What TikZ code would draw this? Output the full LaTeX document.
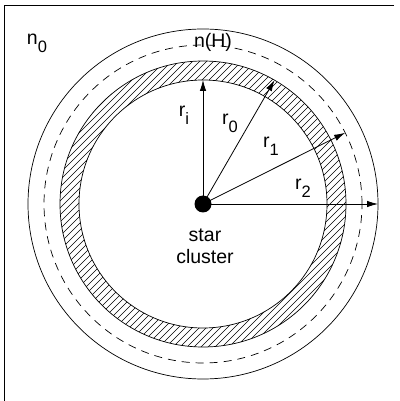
\documentclass[tikz,border=0pt]{standalone}
\usepackage{fontspec}
\setmainfont{Liberation Sans}
\usepackage{tikz}
\usetikzlibrary{arrows.meta,positioning,calc}
\newcommand{\lowsub}[1]{\raisebox{-0.42em}{\fontsize{16.5}{16.5}\selectfont #1}}

\begin{document}
\begin{tikzpicture}[
    x=1pt, y=1pt,
    ring/.style={draw, line width=0.7pt},
    arr/.style={-{Latex[length=11pt,width=6.5pt]}, line width=0.8pt},
    lbl/.style={font=\fontsize{19.5}{22}\selectfont, inner sep=0pt},
    every node/.style={font=\fontsize{19.5}{22}\selectfont}
  ]
    \useasboundingbox (-203,-197) rectangle (196,204);
    % frame (top and left)
    \draw[line width=0.9pt] (191,199) -- (-199,199) -- (-199,-197);

    % hatched shell
    \begin{scope}[even odd rule]
      \clip (0,0) circle (143) (0,0) circle (124);
      \foreach \k in {-300,-293,...,300}
        \draw[line width=0.4pt] (\k-160,-160) -- (\k+160,160);
    \end{scope}
    \draw[ring] (0,0) circle (124);
    \draw[ring] (0,0) circle (143);
    \draw[ring, dash pattern=on 8pt off 6pt] (0,0) circle (159);
    \draw[ring] (0,0) circle (175);

    % star cluster
    \node[circle, fill=black, minimum size=17pt, inner sep=0pt] (sc) at (0,0) {};
    \node[lbl] (star) at (2,-31) {star};
    \node[lbl] (cl) at (2,-53) {cluster};

    % radii
    \coordinate (ri) at (90:124);
    \coordinate (ro) at (60:143);
    \coordinate (ra) at (26.6:159);
    \coordinate (rb) at (0:175);
    \draw[arr] (sc.center) -- (ri);
    \draw[arr] (sc.center) -- (ro);
    \draw[arr] (sc.center) -- (ra);
    \draw[arr] (sc.center) -- (rb);

    \node[lbl] (lri) at (-19,89) {r\lowsub{i}};
    \node[lbl] (lro) at (27,81) {r\lowsub{0}};
    \node[lbl] (lra) at (68,58) {r\lowsub{1}};
    \node[lbl] (lrb) at (100,16) {r\lowsub{2}};

    \node[lbl] (nh) at (10,162) {n(H)};
    \node[lbl] (nz) at (-166,161) {n\lowsub{0}};
  \end{tikzpicture}
\end{document}
